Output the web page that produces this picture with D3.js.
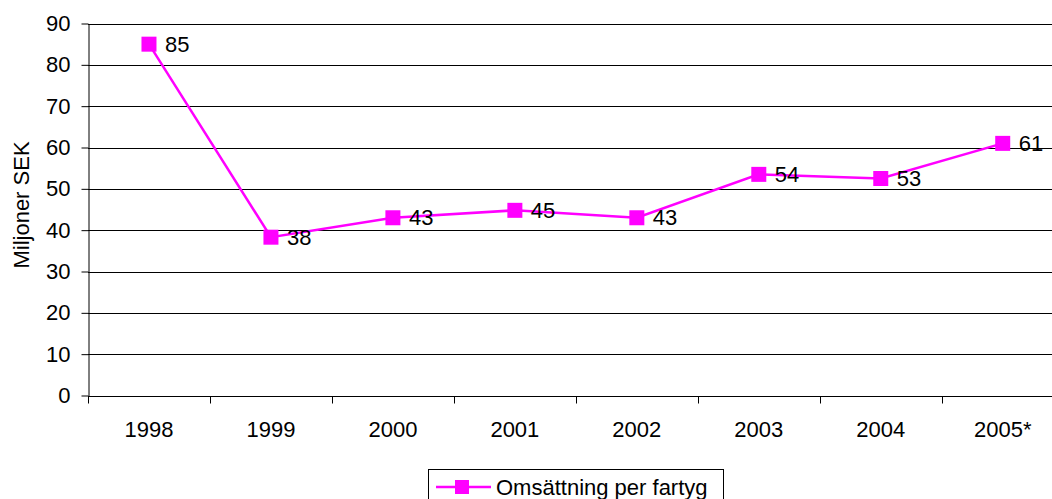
<!DOCTYPE html>
<html><head><meta charset="utf-8">
<script src="https://cdn.jsdelivr.net/npm/d3@7"></script>
<style>body{margin:0;background:#fff}svg{display:block}text{font-family:"Liberation Sans",Arial,sans-serif;fill:#000}</style>
</head><body><svg id="c" width="1052" height="499"></svg>
<script>
const categories = ["1998","1999","2000","2001","2002","2003","2004","2005*"];
const values = [85, 38.3, 43, 44.8, 43, 53.5, 52.5, 61];
const labels = ["85","38","43","45","43","54","53","61"];
const yTicks = [0,10,20,30,40,50,60,70,80,90];
const seriesName = "Omsättning per fartyg";

(function () {
const FS = 22;
const svg = d3.select("#c");
const mLeft = 88, mTop = 23.5, mBottom = 395.5, mRight = 1063.7;
const x = d3.scaleBand().domain(categories).range([mLeft, mRight]);
const y = d3.scaleLinear().domain([0, 90]).range([mBottom, mTop]);
const color = "#FF00FF";

// gridlines
svg.append("g").selectAll("line").data(yTicks.filter(d => d > 0)).join("line")
  .attr("x1", mLeft).attr("x2", mRight)
  .attr("y1", d => Math.round(y(d)) + 0.5).attr("y2", d => Math.round(y(d)) + 0.5)
  .attr("stroke", "#000").attr("stroke-width", 1);

// y axis
const ya = svg.append("g").attr("transform", `translate(${mLeft + 0.5},0)`)
  .call(d3.axisLeft(y).tickValues(yTicks).tickSize(7).tickPadding(11).tickSizeOuter(0));
ya.attr("font-size", FS).attr("font-family", null);
ya.select(".domain").attr("stroke", "#000");
ya.selectAll(".tick line").attr("stroke", "#000");
ya.selectAll(".tick text").attr("fill", "#000");

// x axis
const xa = svg.append("g").attr("transform", `translate(0,${Math.round(mBottom) + 0.5})`);
xa.append("line").attr("x1", mLeft).attr("x2", mRight).attr("stroke", "#000");
const bounds = categories.map(c => x(c));
xa.selectAll("line.tk").data(bounds).join("line").attr("class", "tk")
  .attr("x1", d => Math.round(d) + 0.5).attr("x2", d => Math.round(d) + 0.5)
  .attr("y1", 0).attr("y2", 7).attr("stroke", "#000");
xa.selectAll("text").data(categories).join("text")
  .attr("x", d => x(d) + x.bandwidth() / 2).attr("y", 40.5)
  .attr("text-anchor", "middle").attr("font-size", FS).text(d => d);

// y label
svg.append("text").attr("transform", "translate(29,205) rotate(-90)")
  .attr("text-anchor", "middle").attr("font-size", FS).text("Miljoner SEK");

// line
const cx = (c) => x(c) + x.bandwidth() / 2;
svg.append("path").datum(values)
  .attr("d", d3.line().x((d, i) => cx(categories[i])).y(d => y(d)))
  .attr("fill", "none").attr("stroke", color).attr("stroke-width", 2.5);

svg.append("g").selectAll("rect").data(values).join("rect")
  .attr("x", (d, i) => cx(categories[i]) - 7.5).attr("y", d => y(d) - 7.5)
  .attr("width", 15).attr("height", 15).attr("fill", color);

svg.append("g").selectAll("text").data(values).join("text")
  .attr("x", (d, i) => cx(categories[i]) + 16).attr("y", d => y(d) + 7.5)
  .attr("font-size", FS).text((d, i) => labels[i]);

// legend
const lg = svg.append("g");
lg.append("rect").attr("x", 428.5).attr("y", 469.5).attr("width", 295).attr("height", 40)
  .attr("fill", "#fff").attr("stroke", "#000");
lg.append("line").attr("x1", 436).attr("x2", 491).attr("y1", 487).attr("y2", 487)
  .attr("stroke", color).attr("stroke-width", 2.5);
lg.append("rect").attr("x", 455).attr("y", 480).attr("width", 14).attr("height", 14).attr("fill", color);
lg.append("text").attr("x", 496).attr("y", 495).attr("font-size", FS).text(seriesName);
})();
</script></body></html>
